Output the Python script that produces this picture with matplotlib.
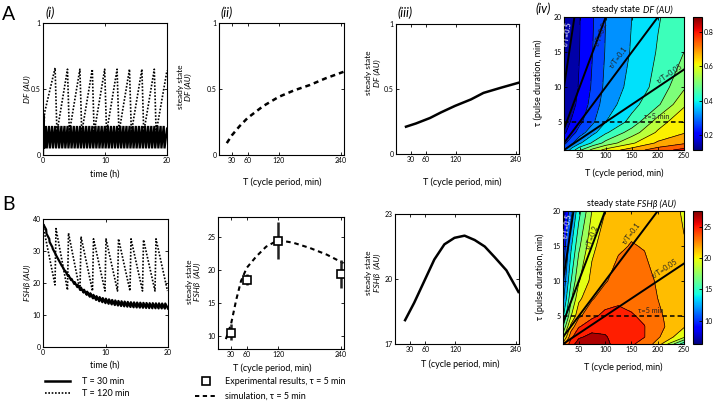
import numpy as np
import matplotlib
matplotlib.use('Agg')
import matplotlib.pyplot as plt
import matplotlib.colors as mcolors
import matplotlib.cm as cm

plt.rcParams['font.family'] = ['Lato', 'DejaVu Sans']
plt.rcParams['axes.linewidth'] = 0.8

# ---------------- data ----------------
# A(i) DF time courses (h, AU)
df30_start_t = [0.0, 0.1, 0.2]
df30_start_v = [0.0, 0.30, 0.05]
df30_peak = 0.22
df30_trough = 0.05
df120_start_t = [0.0, 0.25]
df120_start_v = [0.0, 0.32]
df120_peaks = [0.66, 0.65, 0.65, 0.65, 0.65, 0.65, 0.65, 0.65, 0.65]
df120_troughs = [0.17, 0.17, 0.17, 0.17, 0.17, 0.17, 0.17, 0.17, 0.17]
df120_end = 0.64

# B(i) FSHb time courses
fsh30_centers = [37.5, 34.6, 32.0, 29.9, 28.0, 26.2, 24.5, 23.0, 21.7, 20.5,
                 19.5, 18.6, 17.8, 17.1, 16.5, 16.0, 15.5, 15.1, 14.8, 14.5,
                 14.3, 14.1, 13.9, 13.75, 13.6, 13.5, 13.4, 13.3, 13.2, 13.15,
                 13.1, 13.05, 13.0, 12.95, 12.9, 12.9, 12.85, 12.85, 12.8, 12.8]
fsh30_halfamp = 0.8
fsh120_peaks = [38.0, 37.0, 35.6, 34.5, 33.8, 33.8, 33.8, 33.8, 33.5, 33.8]
fsh120_troughs = [19.4, 17.8, 17.5, 17.5, 17.5, 17.5, 17.5, 17.5, 17.5, 17.5]

# A(ii) steady state DF vs T (simulation)
dfss_T = [20, 30, 45, 60, 90, 120, 150, 180, 210, 245]
dfss_v = [0.09, 0.15, 0.22, 0.28, 0.37, 0.44, 0.49, 0.53, 0.58, 0.63]
# A(iii)
dfss2_T = [20, 40, 68, 90, 118, 150, 175, 210, 245]
dfss2_v = [0.21, 0.235, 0.277, 0.32, 0.37, 0.42, 0.47, 0.51, 0.548]

# B(ii) experiment and simulation
exp_T = [30, 60, 120, 240]
exp_v = [10.5, 18.5, 24.4, 19.4]
exp_lo = [9.3, 17.7, 21.6, 17.3]
exp_hi = [11.8, 19.4, 27.3, 21.5]
sim_T = [20, 30, 40, 49, 60, 78, 97, 120, 149, 181, 213, 245]
sim_v = [9.5, 11.8, 15.5, 18.3, 20.3, 22.0, 23.5, 24.5, 24.1, 23.3, 22.3, 21.0]
# B(iii)
fshss_T = [20, 38, 61, 78, 98, 118, 138, 158, 178, 198, 221, 245]
fshss_v = [18.1, 18.9, 20.05, 20.9, 21.6, 21.9, 22.0, 21.8, 21.5, 21.0, 20.4, 19.4]

# A(iv) steady state DF over (T, tau)
gridA_T = [20, 35, 50, 75, 100, 150, 200, 250]
gridA_tau = [1, 2, 3.5, 5, 7.5, 10, 15, 20]
gridA_Z = [
    [0.28, 0.38, 0.46, 0.55, 0.61, 0.68, 0.74, 0.79],
    [0.21, 0.28, 0.34, 0.42, 0.49, 0.58, 0.66, 0.70],
    [0.16, 0.20, 0.26, 0.33, 0.40, 0.50, 0.60, 0.645],
    [0.15, 0.175, 0.215, 0.28, 0.35, 0.43, 0.56, 0.64],
    [0.14, 0.155, 0.185, 0.255, 0.32, 0.39, 0.46, 0.58],
    [0.135, 0.15, 0.175, 0.24, 0.305, 0.37, 0.43, 0.52],
    [0.13, 0.145, 0.17, 0.23, 0.295, 0.355, 0.415, 0.47],
    [0.13, 0.145, 0.168, 0.225, 0.29, 0.35, 0.405, 0.45],
]
# B(iv) steady state FSHb over (T, tau)
gridB_T = [20, 35, 50, 75, 100, 125, 150, 175, 200, 250]
gridB_tau = [1, 2, 3.5, 5, 7.5, 10, 15, 20]
gridB_Z = [
    [21.0, 25.0, 26.5, 27.0, 26.2, 25.0, 24.2, 23.3, 21.5, 14.0],
    [18.0, 23.5, 25.5, 26.2, 25.9, 25.0, 24.5, 24.0, 22.5, 19.0],
    [15.0, 21.0, 23.8, 25.0, 25.2, 24.9, 24.5, 24.0, 22.8, 20.6],
    [13.0, 18.5, 21.8, 23.6, 24.4, 24.5, 24.1, 23.7, 22.6, 20.6],
    [11.0, 16.5, 20.0, 22.0, 23.2, 23.6, 23.5, 23.0, 22.2, 20.8],
    [10.0, 15.0, 18.5, 21.0, 22.0, 23.0, 23.4, 22.8, 22.0, 20.8],
    [8.5, 13.0, 16.5, 20.0, 21.3, 21.9, 22.3, 22.1, 21.5, 20.5],
    [7.0, 11.0, 14.5, 18.7, 20.4, 21.2, 21.5, 21.5, 21.2, 20.3],
]
ratios = [0.5, 0.2, 0.1, 0.05]
ratio_labels = ['\u03c4/T=0.5', '\u03c4/T=0.2', '\u03c4/T=0.1', '\u03c4/T=0.05']
tau_ref = 5

# ---------------- figure ----------------
W, H = 713, 404
fig = plt.figure(figsize=(W / 100, H / 100), dpi=100)
TICK = 5
LAB = 6.5
YLAB = 6


def px_axes(l, t, r, b):
    return fig.add_axes([l / W, 1 - b / H, (r - l) / W, (b - t) / H])


def style_ax(ax):
    ax.tick_params(direction='in', top=True, right=True, length=2.5, width=0.6,
                   labelsize=TICK, pad=1.5)


def ftext(x, y, s, **kw):
    kw.setdefault('fontsize', LAB)
    return fig.text(x / W, 1 - y / H, s, **kw)


def two_line_ylabel(x, y, top, bottom):
    ftext(x, y, top, ha='center', va='center', rotation=90, fontsize=YLAB)
    ftext(x + 8.5, y, bottom, ha='center', va='center', rotation=90, fontsize=YLAB,
          style='italic')


def rich_h(xc, y, pieces, size):
    r = fig.canvas.get_renderer()
    ts = [fig.text(0, 1 - y / H, s, fontsize=size, style=st, ha='left', va='center')
          for s, st in pieces]
    widths = [t.get_window_extent(r).width for t in ts]
    gap = size * 0.45
    x = xc - (sum(widths) + gap * (len(ts) - 1)) / 2
    for t, w in zip(ts, widths):
        t.set_x(x / W)
        x += w + gap


# ---- A(i)
ax = px_axes(43, 23, 167, 155)
t30 = list(df30_start_t)
v30 = list(df30_start_v)
for k in range(1, 40):
    t30 += [0.5 * k - 0.03, 0.5 * k + 0.1]
    v30 += [df30_peak, df30_trough]
t30.append(20.0)
v30.append(0.2)
t120 = list(df120_start_t)
v120 = list(df120_start_v)
for k, (pk, tr) in enumerate(zip(df120_peaks, df120_troughs), start=1):
    t120 += [2 * k - 0.05, 2 * k + 0.25]
    v120 += [pk, tr]
t120.append(20.0)
v120.append(df120_end)
ax.plot(t30, v30, color='black', lw=1.6, solid_joinstyle='miter')
ax.plot(t120, v120, color='black', lw=1.2, linestyle=(0, (1, 1)))
ax.set_xlim(0, 20)
ax.set_ylim(0, 1)
ax.set_xticks([0, 10, 20])
ax.set_yticks([0, 0.5, 1])
ax.set_yticklabels(['0', '0.5', '1'])
style_ax(ax)
ftext(105, 174, 'time (h)', ha='center', va='center')
ftext(27, 89, 'DF (AU)', ha='center', va='center', rotation=90, style='italic',
      fontsize=YLAB)

# ---- A(ii)
ax = px_axes(219, 23, 344, 155)
ax.plot(dfss_T, dfss_v, color='black', lw=1.8, linestyle=(0, (2, 1.6)))
ax.set_xlim(5, 246)
ax.set_ylim(0, 1)
ax.set_xticks([30, 60, 120, 240])
ax.set_yticks([0, 0.5, 1])
ax.set_yticklabels(['0', '0.5', '1'])
style_ax(ax)
ftext(282, 182, 'T (cycle period, min)', ha='center', va='center')
two_line_ylabel(180, 87, 'steady state', 'DF (AU)')

# ---- A(iii)
ax = px_axes(396, 24, 519, 154)
ax.plot(dfss2_T, dfss2_v, color='black', lw=1.8)
ax.set_xlim(0, 246)
ax.set_ylim(0, 1)
ax.set_xticks([30, 60, 120, 240])
ax.set_yticks([0, 0.5, 1])
ax.set_yticklabels(['0', '0.5', '1'])
style_ax(ax)
ftext(462, 182, 'T (cycle period, min)', ha='center', va='center')
two_line_ylabel(369, 73, 'steady state', 'DF (AU)')


# ---- contour panels
def contour_panel(box, cbox, gT, gtau, Z, levels, vmin, vmax, cticks, lab_pos,
                  tau_lab_pos, title_pieces, title_y, ylab_xy, xlab_y):
    ax = px_axes(*box)
    Tg, taug = np.meshgrid(gT, gtau)
    Zg = np.array(Z)
    ax.contourf(Tg, taug, Zg, levels=levels, cmap='jet', vmin=vmin, vmax=vmax)
    ax.contour(Tg, taug, Zg, levels=levels[1:-1], colors='black', linewidths=0.5)
    Tl = np.array([0, 260])
    for r in ratios:
        ax.plot(Tl, r * Tl, color='black', lw=1.4)
    ax.axhline(tau_ref, color='black', lw=1.1, linestyle=(0, (3, 2)))
    ax.set_xlim(20, 250)
    ax.set_ylim(1, 20)
    ax.set_xticks([50, 100, 150, 200, 250])
    ax.set_yticks([5, 10, 15, 20])
    style_ax(ax)
    for r, s, (x, y) in zip(ratios, ratio_labels, lab_pos):
        p0 = ax.transData.transform((50, 50 * r))
        p1 = ax.transData.transform((100, 100 * r))
        ang = np.degrees(np.arctan2(p1[1] - p0[1], p1[0] - p0[0]))
        col = 'white' if r == 0.5 else '#222222'
        ax.text(x, y, s, rotation=ang, rotation_mode='anchor', ha='center',
                va='center', fontsize=5.2, color=col)
    ax.text(tau_lab_pos[0], tau_lab_pos[1], '\u03c4=5 min', ha='center', va='center',
            fontsize=5.2, color='#222222')
    cax = px_axes(*cbox)
    sm = cm.ScalarMappable(norm=mcolors.Normalize(vmin, vmax), cmap='jet')
    cb = fig.colorbar(sm, cax=cax)
    cb.set_ticks(cticks)
    cb.ax.tick_params(labelsize=TICK, length=2, width=0.6, direction='in', pad=1.5)
    cb.outline.set_linewidth(0.8)
    xc = (box[0] + box[2]) / 2
    rich_h(xc + 8, title_y, title_pieces, LAB)
    ftext(xc, xlab_y, 'T (cycle period, min)', ha='center', va='center')
    ftext(ylab_xy[0], ylab_xy[1], '\u03c4 (pulse duration, min)', ha='center',
          va='center', rotation=90)
    return ax


levelsA = np.linspace(0.11, 0.89, 14)
contour_panel((564, 17, 684, 150), (693, 17, 702, 150), gridA_T, gridA_tau, gridA_Z,
              levelsA, 0.11, 0.89, [0.2, 0.4, 0.6, 0.8],
              [(27, 17.5), (90, 17.6), (124, 14.3), (222, 11.9)], (198, 5.8),
              [('steady state', 'normal'), ('DF (AU)', 'italic')], 10, (538, 83), 173)

levelsB = np.linspace(6.3, 27.5, 13)
contour_panel((563, 211, 684, 344), (693, 211, 702, 344), gridB_T, gridB_tau, gridB_Z,
              levelsB, 6.3, 27.5, [10, 15, 20, 25],
              [(27.5, 17.8), (76, 16.3), (150, 16.8), (214, 11.8)], (186, 5.8),
              [('steady state', 'normal'), ('FSH\u03b2 (AU)', 'italic')], 204, (540, 277), 367)

# ---- B(i)
ax = px_axes(43, 219, 168, 347)
ts, vs = [], []
for k, c in enumerate(fsh30_centers):
    ts += [0.5 * k + 0.06, 0.5 * k + 0.5]
    vs += [c + fsh30_halfamp, c - fsh30_halfamp]
ts = [0.0] + ts
vs = [fsh30_centers[0]] + vs
ax.plot(ts, vs, color='black', lw=1.6)
tt, vv = [0.0], [fsh120_peaks[0]]
for k, (pk, tr) in enumerate(zip(fsh120_peaks, fsh120_troughs)):
    if k > 0:
        tt.append(2 * k + 0.08)
        vv.append(pk)
    tt.append(2 * k + 1.92)
    vv.append(tr)
ax.plot(tt, vv, color='black', lw=1.2, linestyle=(0, (1, 1)))
ax.set_xlim(0, 20)
ax.set_ylim(0, 40)
ax.set_xticks([0, 10, 20])
ax.set_yticks([0, 10, 20, 30, 40])
style_ax(ax)
ftext(105, 365, 'time (h)', ha='center', va='center')
ftext(27, 283, 'FSH\u03b2 (AU)', ha='center', va='center', rotation=90, style='italic',
      fontsize=YLAB)

# ---- B(ii)
ax = px_axes(218, 217, 344, 349)
ax.plot(sim_T, sim_v, color='black', lw=1.5, linestyle=(0, (2.2, 1.8)))
yerr = [np.array(exp_v) - np.array(exp_lo), np.array(exp_hi) - np.array(exp_v)]
ax.errorbar(exp_T, exp_v, yerr=yerr, fmt='s', mfc='white', mec='black', mew=1.2,
            ms=6, ecolor='#222222', elinewidth=1.8, capsize=0, zorder=3)
ax.set_xlim(5, 246)
ax.set_ylim(8, 28)
ax.set_xticks([30, 60, 120, 240])
ax.set_yticks([10, 15, 20, 25])
style_ax(ax)
ftext(272, 368, 'T (cycle period, min)', ha='center', va='center')
two_line_ylabel(189, 282, 'steady state', 'FSH\u03b2  (AU)')

# ---- B(iii)
ax = px_axes(395, 214, 519, 344)
ax.plot(fshss_T, fshss_v, color='black', lw=1.8)
ax.set_xlim(0, 246)
ax.set_ylim(17, 23)
ax.set_xticks([30, 60, 120, 240])
ax.set_yticks([17, 20, 23])
style_ax(ax)
ftext(460, 364, 'T (cycle period, min)', ha='center', va='center')
two_line_ylabel(369, 273, 'steady state', 'FSH\u03b2  (AU)')

# ---- panel letters
ftext(2, 14, 'A', fontsize=14, ha='left', va='center')
ftext(2, 205, 'B', fontsize=14, ha='left', va='center')
for x, y, s in [(45, 13, '(i)'), (220, 13, '(ii)'), (397, 13, '(iii)'), (535, 9, '(iv)')]:
    ftext(x, y, s, fontsize=9, style='italic', ha='left', va='center')

# ---- legends
leg = fig.add_axes([0, 0, 1, 1], facecolor='none')
leg.set_xlim(0, W)
leg.set_ylim(H, 0)
leg.axis('off')
leg.plot([45, 70], [381, 381], color='black', lw=1.8)
leg.plot([45, 70], [393, 393], color='black', lw=1.2, linestyle=(0, (1, 1)))
ftext(82, 381, 'T = 30 min', ha='left', va='center')
ftext(82, 393, 'T = 120 min', ha='left', va='center')
leg.plot([206], [381], marker='s', ms=5.5, mfc='white', mec='black', mew=1.2)
leg.plot([195, 218], [396, 396], color='black', lw=1.4, linestyle=(0, (2.2, 1.8)))
ftext(225, 381, 'Experimental results, \u03c4 = 5 min', ha='left', va='center')
ftext(225, 396, 'simulation, \u03c4 = 5 min', ha='left', va='center')

fig.savefig('out.png', dpi=100)
